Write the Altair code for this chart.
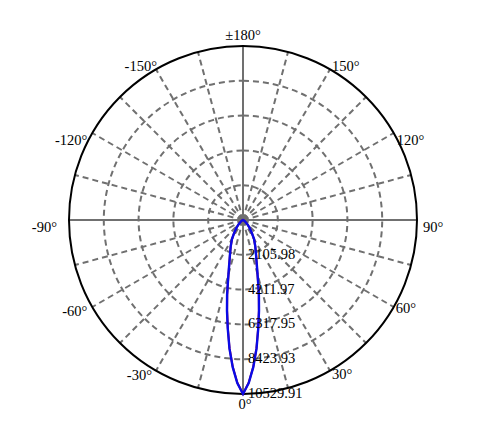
import math
import altair as alt
import pandas as pd

# ---- data ----
max_val = 10529.91
ring_values = [2105.98, 4211.97, 6317.95, 8423.93, 10529.91]
ring_labels = ["2105.98", "4211.97", "6317.95", "8423.93", "10529.91"]

beam_angles = [0, 2, 4, 6, 8, 10, 12, 14, 16, 18, 20, 25, 30, 35, 40, 45, 50, 60, 70, 80, 90]
c0_values = [10529.91, 9850, 8900, 7800, 6600, 5550, 4600, 3720, 3100, 2650, 2320,
             1750, 1330, 900, 600, 380, 230, 90, 30, 10, 0]
c90_values = [10529.91, 9870, 8930, 7830, 6630, 5580, 4630, 3740, 3120, 2660, 2330,
              1760, 1340, 905, 605, 385, 232, 92, 30, 10, 0]

grid_angles = [a for a in range(-165, 181, 15)]
axis_angles = [0, 90, 180, -90]
label_angles = [-150, -120, -90, -60, -30, 0, 30, 60, 90, 120, 150, 180]
label_texts = ["-150°", "-120°", "-90°", "-60°", "-30°", "0°", "30°", "60°", "90°",
               "120°", "150°", "±180°"]

# ---- layout / styling (label offsets in px) ----
R_PX = 174
W = 2 * R_PX
GRAY = "#707070"
FONT = "Liberation Serif"
FS = 14.5
label_style = {
    -150: ("right", "middle", 1, -2),
    -120: ("right", "middle", -5, 8),
    -90: ("right", "middle", -12, 8),
    -60: ("right", "middle", -5, 5),
    -30: ("right", "middle", -4, 5),
    0: ("center", "top", 2, 4),
    30: ("left", "middle", 2, 4),
    60: ("left", "middle", 2, 2),
    90: ("left", "middle", 6, 8),
    120: ("left", "middle", 3, 8),
    150: ("left", "middle", 2, -2),
    180: ("center", "bottom", 0, -3),
}

xs = alt.Scale(domain=[-max_val, max_val], nice=False, zero=False)
ys = alt.Scale(domain=[-max_val, max_val], nice=False, zero=False)
rs = alt.Scale(type="linear", domain=[0, max_val], range=[0, R_PX], zero=True, nice=False)

def X(f):
    return alt.X(f, type="quantitative", scale=xs, axis=None)

def Y(f):
    return alt.Y(f, type="quantitative", scale=ys, axis=None)

# rings
rings_df = pd.DataFrame({"r": ring_values[:-1]})
rings = alt.Chart(rings_df).mark_arc(
    theta=0, theta2=2 * math.pi, fillOpacity=0, stroke=GRAY, strokeWidth=2,
    strokeDash=[6, 4]
).encode(radius=alt.Radius("r:Q", scale=rs, stack=None))

outer_df = pd.DataFrame({"r": [max_val]})
outer = alt.Chart(outer_df).mark_arc(
    theta=0, theta2=2 * math.pi, fillOpacity=0, stroke="black", strokeWidth=2
).encode(radius=alt.Radius("r:Q", scale=rs, stack=None))

# radial grid lines
grid_df = pd.DataFrame({"a": [a for a in grid_angles if a not in axis_angles]})
axis_df = pd.DataFrame({"a": axis_angles})

def spokes(df, dash):
    kw = dict(color=GRAY, strokeWidth=2)
    if dash:
        kw["strokeDash"] = [6, 4]
    return alt.Chart(df).transform_calculate(
        x0="0", y0="0",
        x1=f"{max_val} * sin(datum.a * PI / 180)",
        y1=f"-{max_val} * cos(datum.a * PI / 180)",
    ).mark_rule(**kw).encode(
        x=X("x0"), y=Y("y0"), x2="x1:Q", y2="y1:Q"
    )

grid = spokes(grid_df, True)
axes = spokes(axis_df, False)

# center dot
dot = alt.Chart(pd.DataFrame({"x": [0], "y": [0]})).mark_point(
    filled=True, size=100, color=GRAY, opacity=1
).encode(x=X("x"), y=Y("y"))

# beam curves
def curve_df(vals, name):
    angs = [-a for a in reversed(beam_angles)] + beam_angles[1:]
    v = list(reversed(vals)) + vals[1:]
    return pd.DataFrame({"a": angs, "v": v, "s": name})

def curve(df, color, width):
    return alt.Chart(df).transform_calculate(
        px="datum.v * sin(datum.a * PI / 180)",
        py="-datum.v * cos(datum.a * PI / 180)",
    ).mark_line(color=color, strokeWidth=width).encode(
        x=X("px"), y=Y("py"), order="a:Q"
    )

c0 = curve(curve_df(c0_values, "C0"), "#d01010", 2.0)
c90 = curve(curve_df(c90_values, "C90"), "#0a0ae6", 2.4)

# angle labels
lab_df = pd.DataFrame({"a": label_angles, "t": label_texts})

def label(ang):
    align, baseline, dx, dy = label_style[ang]
    return alt.Chart(lab_df).transform_filter(f"datum.a == {ang}").transform_calculate(
        px=f"{max_val} * sin(datum.a * PI / 180)",
        py=f"-{max_val} * cos(datum.a * PI / 180)",
    ).mark_text(
        align=align, baseline=baseline, dx=dx, dy=dy, font=FONT, fontSize=FS,
        color="black"
    ).encode(x=X("px"), y=Y("py"), text="t:N")

angle_labels = [label(a) for a in label_angles]

# ring value labels
rl_df = pd.DataFrame({"v": ring_values, "t": ring_labels, "x": [0] * len(ring_values)})
ring_lab = alt.Chart(rl_df).transform_calculate(py="-datum.v").mark_text(
    align="left", baseline="middle", dx=5, font=FONT, fontSize=FS, color="black"
).encode(x=X("x"), y=Y("py"), text="t:N")

chart = alt.layer(
    rings, grid, axes, outer, dot, c0, c90, ring_lab, *angle_labels
).properties(
    width=W, height=W,
    autosize=alt.AutoSizeParams(type="none"),
    padding={"left": 61, "top": 38, "right": 79, "bottom": 20},
    background="white",
).configure_view(stroke=None)

chart.save("out.html", embed_options={"renderer": "svg", "actions": False})
